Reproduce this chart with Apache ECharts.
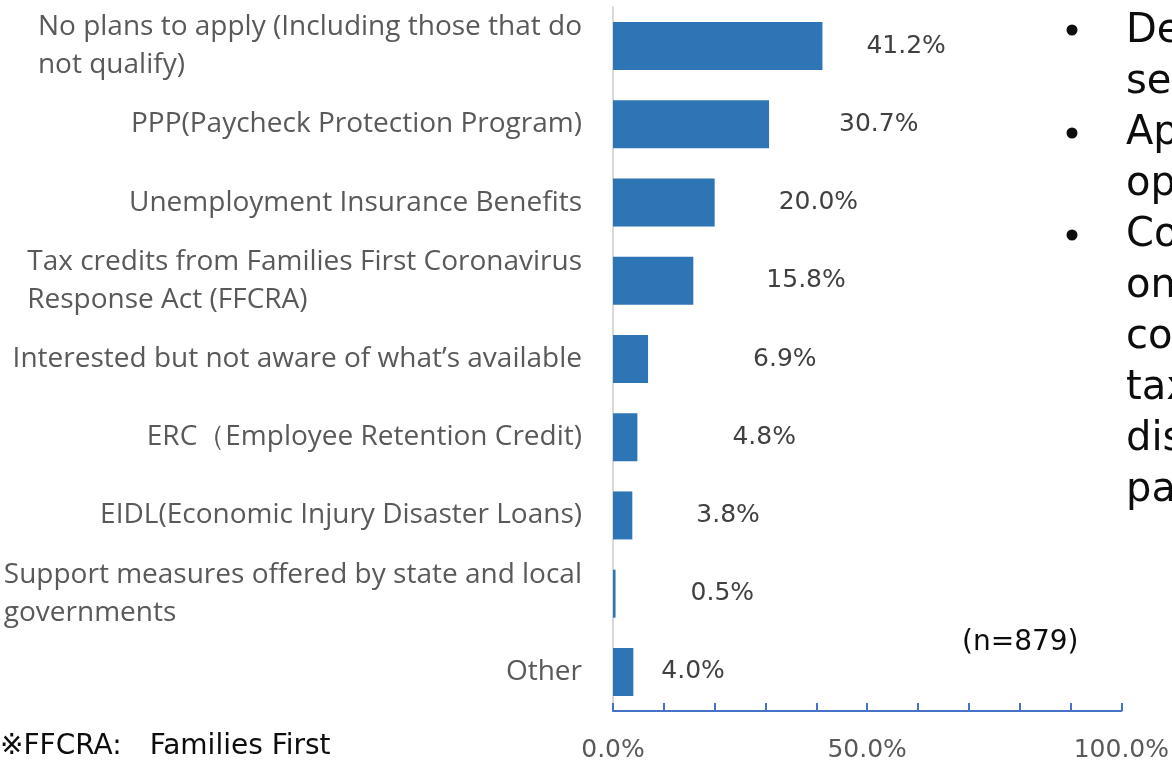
<!DOCTYPE html>
<html>
<head>
<meta charset="utf-8">
<script src="https://cdn.jsdelivr.net/npm/echarts@6/dist/echarts.min.js"></script>
<style>
  html, body { margin: 0; padding: 0; background: #fff; }
  #main { width: 1172px; height: 769px; }
</style>
</head>
<body>
<div id="main"></div>
<script>
// survey answers, top to bottom
var categories = [
  'No plans to apply (Including those that do\nnot qualify)',
  'PPP(Paycheck Protection Program)',
  'Unemployment Insurance Benefits',
  'Tax credits from Families First Coronavirus\nResponse Act (FFCRA)',
  'Interested but not aware of what\u2019s available',
  'ERC\uff08Employee Retention Credit)',
  'EIDL(Economic Injury Disaster Loans)',
  'Support measures offered by state and local\ngovernments',
  'Other'
];
var shares = [41.2, 30.7, 20.0, 15.8, 6.9, 4.8, 3.8, 0.5, 4.0];
var xTicks = [0, 50, 100];

// the data labels were nudged by hand in the original, keep their gaps
var labelGap = [44, 70, 64, 73, 105, 95, 64, 75, 28];

var chart = echarts.init(document.getElementById('main'));

var option = {
  animation: false,
  grid: { left: 613, right: 45, top: 7, bottom: 58, containLabel: false },
  xAxis: {
    type: 'value',
    min: 0,
    max: 100,
    interval: 10,
    splitLine: { show: false },
    axisLine: { show: true, lineStyle: { color: '#4472C4', width: 2 } },
    axisTick: { show: true, inside: true, length: 8, lineStyle: { color: '#4472C4', width: 2 } },
    axisLabel: {
      margin: 27,
      color: '#595959',
      fontSize: 25,
      fontFamily: 'DejaVu Sans',
      formatter: function (v) {
        return xTicks.indexOf(v) >= 0 ? v.toFixed(1) + '%' : '';
      }
    }
  },
  yAxis: {
    type: 'category',
    inverse: true,
    data: categories,
    axisLine: { show: true, lineStyle: { color: '#D9D9D9', width: 2 } },
    axisTick: { show: false },
    axisLabel: {
      margin: 31,
      fontFamily: 'Open Sans',
      fontSize: 28,
      color: '#595959',
      align: 'right',
      formatter: function (v) {
        return v.split('\n').map(function (s) { return '{a|' + s + '}'; }).join('\n');
      },
      rich: {
        a: { align: 'left', fontFamily: 'Open Sans', fontSize: 28, color: '#595959', lineHeight: 38 }
      }
    }
  },
  series: [{
    type: 'bar',
    barWidth: 48,
    itemStyle: { color: '#2E75B6' },
    data: shares.map(function (v, i) {
      return {
        value: v,
        label: { distance: labelGap[i] }
      };
    }),
    label: {
      show: true,
      position: 'right',
      fontFamily: 'DejaVu Sans',
      fontSize: 25,
      color: '#404040',
      formatter: function (p) { return p.value.toFixed(1) + '%'; }
    }
  }],
  graphic: [
    { type: 'text', x: 962, y: 643, style: { text: '(n=879)', font: '28px "DejaVu Sans"', fill: '#0d0d0d', verticalAlign: 'middle' } },
    { type: 'text', x: 0, y: 747, style: { text: '\u203bFFCRA:\u3000Families First', font: '28px "DejaVu Sans"', fill: '#0d0d0d', verticalAlign: 'middle' } },
    { type: 'circle', shape: { cx: 1072, cy: 30, r: 5.5 }, style: { fill: '#0d0d0d' } },
    { type: 'circle', shape: { cx: 1072, cy: 133, r: 5.5 }, style: { fill: '#0d0d0d' } },
    { type: 'circle', shape: { cx: 1072, cy: 235, r: 5.5 }, style: { fill: '#0d0d0d' } },
    {
      type: 'text', x: 1126, y: 6,
      style: {
        text: 'De\nse\nAp\nop\nCo\non\nco\ntax\ndis\npa',
        font: '40px "DejaVu Sans"',
        lineHeight: 51,
        fill: '#0d0d0d'
      }
    }
  ]
};

chart.setOption(option);
</script>
</body>
</html>
